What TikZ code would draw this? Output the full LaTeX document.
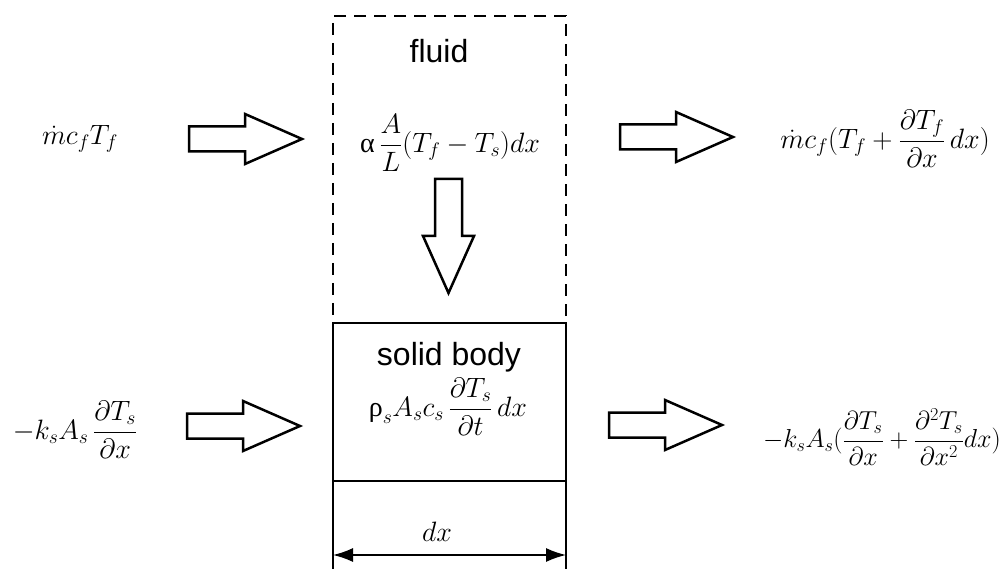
\RequirePackage{fix-cm}
\documentclass[tikz,border=0pt]{standalone}
\usepackage{fontspec}
\setsansfont{Liberation Sans}
\newfontfamily\grk{Liberation Serif}
\usetikzlibrary{arrows.meta}
\begin{document}
\begin{tikzpicture}[x=1pt,y=-1pt]
\tikzset{
  frame/.style={line width=2pt, outer sep=0pt},
  barrow/.style={draw, line width=2.5pt, fill=white, line join=miter},
  mathlbl/.style={font=\fontsize{28}{34}\selectfont, inner sep=0pt},
  lbl/.style={font=\sffamily\fontsize{32}{38}\selectfont, inner sep=0pt},
  rarr/.pic={\draw[barrow] (0,-12.5) -- (56,-12.5) -- (56,-25) -- (113,0) -- (56,25) -- (56,12.5) -- (0,12.5) -- cycle;},
  darr/.pic={\draw[barrow] (-13.5,0) -- (-13.5,57) -- (-25.5,57) -- (0,114) -- (25.5,57) -- (13.5,57) -- (13.5,0) -- cycle;},
}
\useasboundingbox (0,0) rectangle (1001,569);
% fluid (dashed) and solid body boxes
\node[draw, frame, dashed, dash pattern=on 12pt off 8pt, minimum width=233pt, minimum height=307pt, anchor=north west, inner sep=0pt] (fluid) at (333,16) {};
\node[draw, frame, fill=white, minimum width=233pt, minimum height=158pt, anchor=north west, inner sep=0pt] (solid) at (333,323) {};
\node[lbl, anchor=base] (fluidlbl) at (439,63) {fluid};
\node[lbl, anchor=base] (solidlbl) at (449,365) {solid body};
% formulas
\node[mathlbl] (inF) at (80,139) {$\dot m c_f T_f$};
\node[mathlbl] (outF) at (885,139) {$\displaystyle \dot m c_f (T_f + \frac{\partial T_f}{\partial x}\,dx)$};
\node[mathlbl] (conv) at (450,143) {$\displaystyle \mbox{\grk α}\,\frac{A}{L}\Bigl(T_f - T_s\Bigr)dx$};
\node[mathlbl] (inS) at (75,430) {$\displaystyle -k_s A_s\, \frac{\partial T_s}{\partial x}$};
\node[mathlbl] (store) at (448,407) {$\displaystyle \mbox{\grk ρ}_s A_s c_s\, \frac{\partial T_s}{\partial t}\,dx$};
\node[mathlbl, font=\fontsize{26}{32}\selectfont] (outS) at (882,437) {$\displaystyle -k_s A_s (\frac{\partial T_s}{\partial x} + \frac{\partial^2 T_s}{\partial x^2}dx)$};
% block arrows
\pic (a1) at (189,139) {rarr};
\pic (a2) at (620,137) {rarr};
\pic (a3) at (187,426) {rarr};
\pic (a4) at (609,425) {rarr};
\pic (a5) at (448.5,179) {darr};
% dimension
\coordinate (el) at (333,569);
\coordinate (er) at (566,569);
\draw[line width=1.5pt] (solid.south west) -- (el);
\draw[line width=1.5pt] (solid.south east) -- (er);
\coordinate (dl) at (333,555);
\coordinate (dr) at (566,555);
\draw[line width=1.5pt, {Latex[length=20pt,width=14pt]}-{Latex[length=20pt,width=14pt]}] (dl) -- (dr);
\node[mathlbl, anchor=base] (dxlbl) at (437,541) {$dx$};
\end{tikzpicture}
\end{document}
